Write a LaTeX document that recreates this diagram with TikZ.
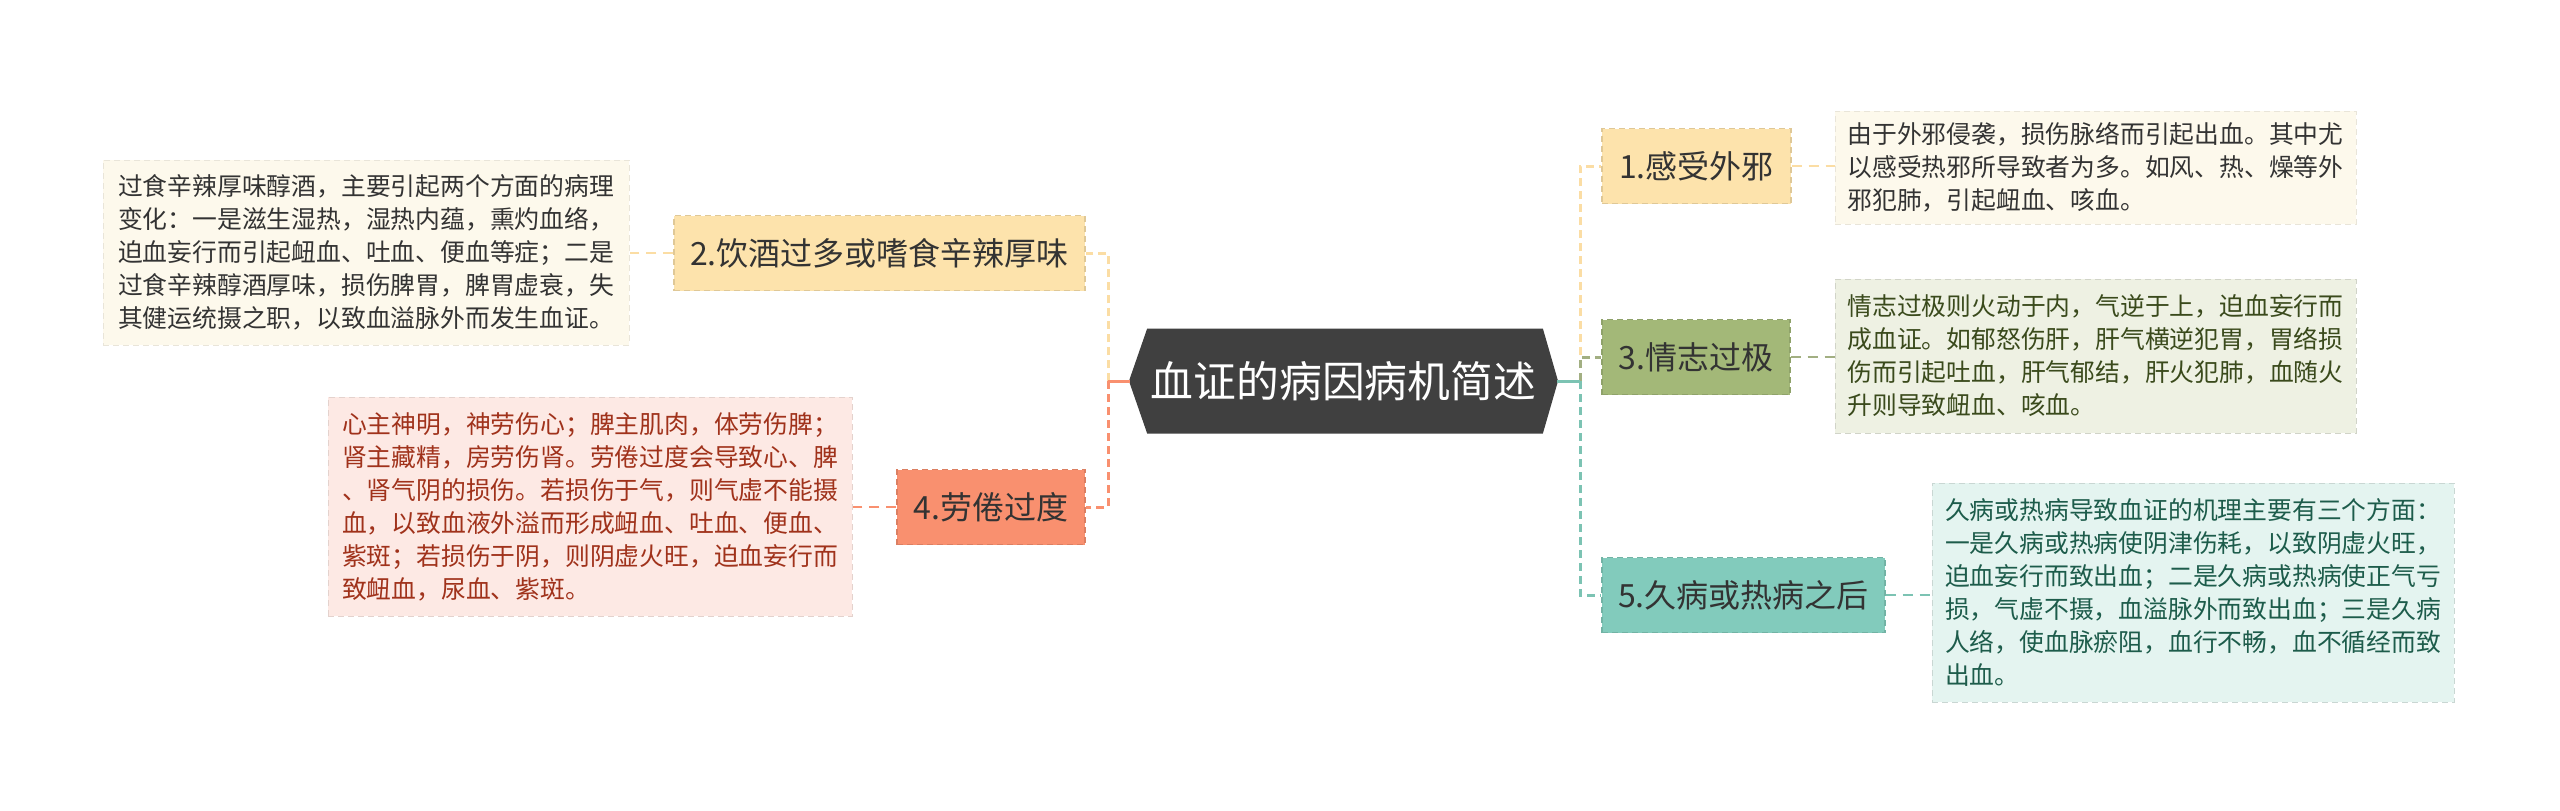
\documentclass[tikz,border=0pt]{standalone}
\usepackage{fontspec}
\setmainfont{Noto Sans CJK SC}
\usetikzlibrary{calc,backgrounds}
\definecolor{cYel}{HTML}{FDE3AC}
\definecolor{cYelLine}{HTML}{FBDDA4}
\definecolor{cGrn}{HTML}{A3B878}
\definecolor{cGrnLine}{HTML}{A2AF82}
\definecolor{cOrg}{HTML}{F9906F}
\definecolor{cTeal}{HTML}{82CBBC}
\definecolor{cTealLine}{HTML}{7CC3B3}
\definecolor{cDark}{HTML}{404040}
\definecolor{lYel}{HTML}{FDF9EC}
\definecolor{lGrn}{HTML}{EEF1E3}
\definecolor{lOrg}{HTML}{FDE9E4}
\definecolor{lTeal}{HTML}{E4F4F0}
\definecolor{tGrn}{HTML}{3A4A1C}
\definecolor{tOrg}{HTML}{A0321B}
\definecolor{tTeal}{HTML}{1D5C4B}
\definecolor{tDark}{HTML}{333333}
\begin{document}
\begin{tikzpicture}[x=0.5pt,y=-0.5pt,
  branch/.style={inner sep=0pt, minimum height=37.5pt, font=\fontsize{16}{19}\selectfont, text=tDark, dash pattern=on 3pt off 2pt, line width=0.6pt},
  leaf/.style={inner sep=0pt, text width=248pt, align=left, font=\fontsize{12.4}{16.5}\selectfont, dash pattern=on 3pt off 2pt, line width=0.5pt},
  conn/.style={line width=1.5pt, dash pattern=on 4pt off 2.5pt},
  leafconn/.style={line width=1pt, dash pattern=on 5pt off 3.5pt},
  stub/.style={line width=1.5pt}]
\useasboundingbox (0,0) rectangle (2560,810);

% central
\node[minimum width=213.5pt, minimum height=51.5pt, inner sep=0pt, text=white, font=\fontsize{21.4}{26}\selectfont] (c) at (1343.5,381) {血证的病因病机简述};
\begin{pgfonlayer}{background}
\fill[white] (0,0) rectangle (2560,810);
\filldraw[fill=cDark, draw=black!75, line width=0.6pt] ($(c.north west)+(18,0)$) -- ($(c.north east)+(-15,0)$) -- (c.east) -- ($(c.south east)+(-15,0)$) -- ($(c.south west)+(18,0)$) -- (c.west) -- cycle;
\end{pgfonlayer}

% branches
\node[branch, fill=cYel, draw=cYel!88!black, minimum width=94.5pt] (n1) at (1696.5,166) {1.感受外邪};
\node[branch, fill=cYel, draw=cYel!88!black, minimum width=205.5pt] (n2) at (879.5,253) {2.饮酒过多或嗜食辛辣厚味};
\node[branch, fill=cGrn, draw=cGrn!88!black, minimum width=94pt] (n3) at (1696,357) {3.情志过极};
\node[branch, fill=cOrg, draw=cOrg!88!black, minimum width=94pt] (n4) at (991,507) {4.劳倦过度};
\node[branch, fill=cTeal, draw=cTeal!88!black, minimum width=141.5pt] (n5) at (1743.5,595) {5.久病或热病之后};

% leaves
\node[leaf, fill=lYel, draw=lYel!92!black, minimum width=260.5pt, minimum height=56.5pt, text=tDark] (l1) at (2095.5,167.5) {由于外邪侵袭，损伤脉络而引起出血。其中尤\\以感受热邪所导致者为多。如风、热、燥等外\\邪犯肺，引起衄血、咳血。};
\node[leaf, fill=lYel, draw=lYel!92!black, minimum width=263pt, minimum height=92.5pt, text=tDark] (l2) at (366,252.5) {过食辛辣厚味醇酒，主要引起两个方面的病理\\变化：一是滋生湿热，湿热内蕴，熏灼血络，\\迫血妄行而引起衄血、吐血、便血等症；二是\\过食辛辣醇酒厚味，损伤脾胃，脾胃虚衰，失\\其健运统摄之职，以致血溢脉外而发生血证。};
\node[leaf, fill=lGrn, draw=lGrn!88!black, minimum width=260.5pt, minimum height=77pt, text=tGrn] (l3) at (2095.5,356) {情志过极则火动于内，气逆于上，迫血妄行而\\成血证。如郁怒伤肝，肝气横逆犯胃，胃络损\\伤而引起吐血，肝气郁结，肝火犯肺，血随火\\升则导致衄血、咳血。};
\node[leaf, fill=lOrg, draw=lOrg!90!black, minimum width=262pt, minimum height=109.5pt, text=tOrg] (l4) at (590,506.5) {心主神明，神劳伤心；脾主肌肉，体劳伤脾；\\肾主藏精，房劳伤肾。劳倦过度会导致心、脾\\、肾气阴的损伤。若损伤于气，则气虚不能摄\\血，以致血液外溢而形成衄血、吐血、便血、\\紫斑；若损伤于阴，则阴虚火旺，迫血妄行而\\致衄血，尿血、紫斑。};
\node[leaf, fill=lTeal, draw=lTeal!88!black, minimum width=261pt, minimum height=109.5pt, text=tTeal] (l5) at (2193,592.5) {久病或热病导致血证的机理主要有三个方面：\\一是久病或热病使阴津伤耗，以致阴虚火旺，\\迫血妄行而致出血；二是久病或热病使正气亏\\损，气虚不摄，血溢脉外而致出血；三是久病\\人络，使血脉瘀阻，血行不畅，血不循经而致\\出血。};

% junctions
\coordinate (rj) at (1580,381);
\coordinate (lj) at (1108,381);

% main connectors
\draw[cYelLine, conn] (rj) |- (n1.west);
\draw[cGrnLine, conn] (rj) |- (n3.west);
\draw[cTealLine, conn] (rj) |- (n5.west);
\draw[cTealLine, stub] (c.east) -- (rj);
\draw[cYelLine, conn] (lj) |- (n2.east);
\draw[cOrg, conn] (lj) |- (n4.east);
\draw[cOrg, stub] (c.west) -- (lj);

% leaf connectors
\draw[cYelLine, leafconn] (n1.east) -- (n1.east -| l1.west);
\draw[cGrnLine, leafconn] (n3.east) -- (n3.east -| l3.west);
\draw[cTealLine, leafconn] (n5.east) -- (n5.east -| l5.west);
\draw[cYelLine, leafconn] (n2.west) -- (n2.west -| l2.east);
\draw[cOrg, leafconn] (n4.west) -- (n4.west -| l4.east);
\end{tikzpicture}
\end{document}
